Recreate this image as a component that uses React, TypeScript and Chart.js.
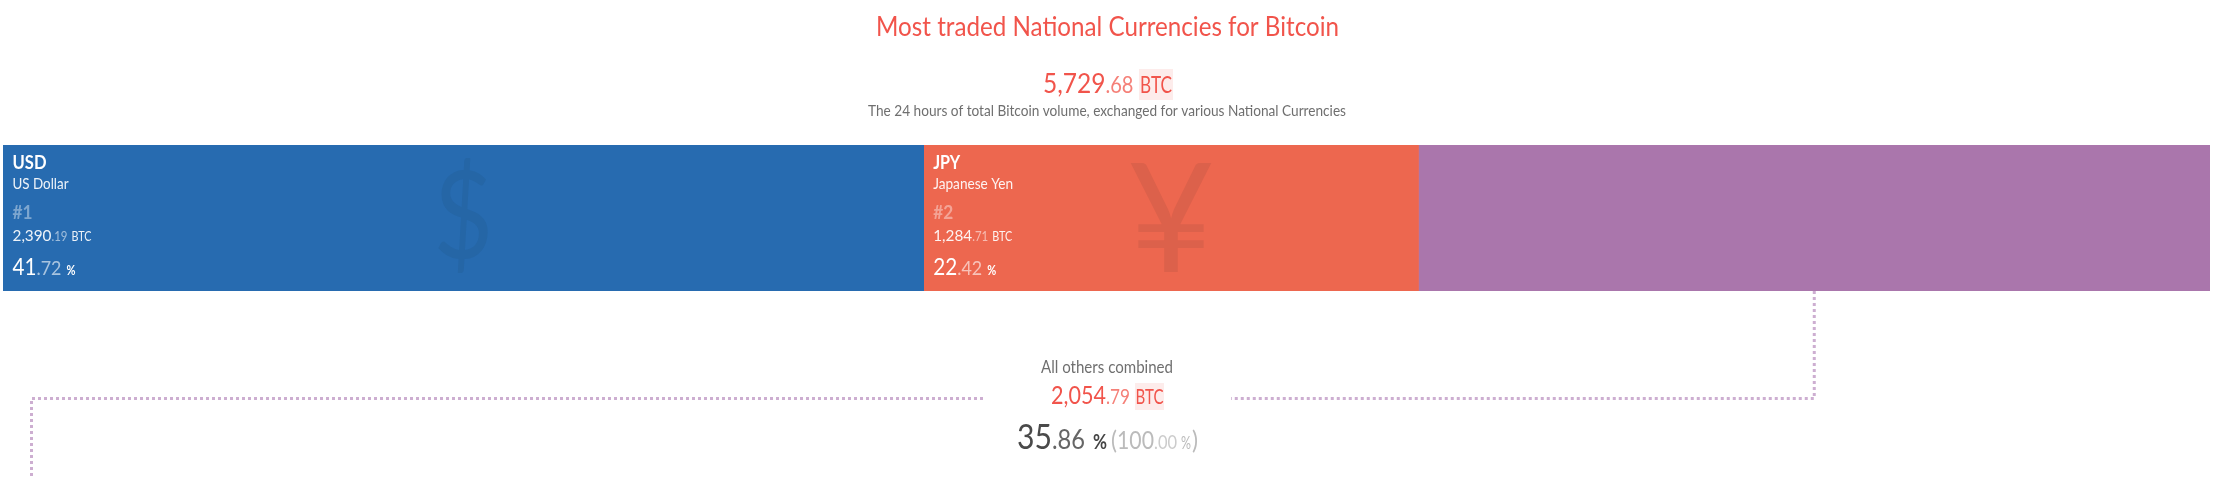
import { useEffect, useRef } from 'react'
import { Chart, registerables } from 'chart.js'

Chart.register(...registerables)

const FONT = 'Lato, sans-serif'

const currencies = ['USD', 'JPY', 'Others']
const currencyNames = ['US Dollar', 'Japanese Yen', 'All others combined']
const ranks = ['#1', '#2']
const symbols = ['$', '¥']
const btcVolumes = [2390.19, 1284.71, 2054.79]
const shares = [41.72, 22.42, 35.86]
const segmentColors = ['#276bb0', '#ed674f', '#aa76ac']
const symbolColors = ['#2566a6', '#dc614b']
const totalVolume = 5729.68

const RED = '#f1544b'
const RED_LIGHT = '#f58078'
const GREY = '#6f6f6f'
const DOTS = '#cdaed1'

type Run = { text: string; size: number; width: number; color: string; weight?: number; gap?: number }

function splitNumber(value: number) {
  const [whole, decimals] = value.toFixed(2).split('.')
  return [Number(whole).toLocaleString('en-US'), '.' + decimals]
}

// draws a line of mixed-size text, each piece squeezed to its width
function drawRuns(ctx: CanvasRenderingContext2D, x: number, y: number, runs: Run[]) {
  let cursor = x
  ctx.textAlign = 'left'
  ctx.textBaseline = 'alphabetic'
  runs.forEach((run) => {
    ctx.font = `${run.weight ?? 400} ${run.size}px ${FONT}`
    ctx.fillStyle = run.color
    ctx.fillText(run.text, cursor, y, run.width)
    cursor += run.width + (run.gap ?? 0)
  })
}

function dottedLine(ctx: CanvasRenderingContext2D, points: number[][]) {
  ctx.save()
  ctx.strokeStyle = DOTS
  ctx.lineWidth = 3
  ctx.setLineDash([3, 3])
  ctx.beginPath()
  points.forEach(([x, y], i) => (i === 0 ? ctx.moveTo(x, y) : ctx.lineTo(x, y)))
  ctx.stroke()
  ctx.restore()
}

const overlayPlugin = {
  id: 'overlay',
  afterDatasetsDraw(chart: Chart) {
    const ctx = chart.ctx
    const bars = chart.data.datasets.map((_, i) => chart.getDatasetMeta(i).data[0] as any)
    ctx.save()

    // heading
    drawRuns(ctx, 876, 36, [
      { text: 'Most traded National Currencies for Bitcoin', size: 27, width: 463, color: RED },
    ])
    ctx.fillStyle = '#fdeceb'
    ctx.fillRect(1139, 69, 34, 31)
    const [totalWhole, totalDec] = splitNumber(totalVolume)
    drawRuns(ctx, 1043, 93, [
      { text: totalWhole, size: 27, width: 62.5, color: RED },
      { text: totalDec, size: 23, width: 28, color: RED_LIGHT, gap: 6.5 },
      { text: 'BTC', size: 24, width: 32, color: RED },
    ])
    drawRuns(ctx, 868, 116, [
      {
        text: 'The 24 hours of total Bitcoin volume, exchanged for various National Currencies',
        size: 15,
        width: 478,
        color: GREY,
      },
    ])

    // labels inside the first two segments
    symbols.forEach((symbol, i) => {
      const left = bars[i].base
      const right = bars[i].x
      const textX = left + 9.5
      ctx.font = `400 ${i === 0 ? 122 : 152}px ${FONT}`
      ctx.fillStyle = symbolColors[i]
      ctx.textAlign = 'center'
      ctx.textBaseline = 'alphabetic'
      ctx.fillText(symbol, (left + right) / 2, i === 0 ? 258 : 272, i === 0 ? 60 : 88)

      const [whole, dec] = splitNumber(btcVolumes[i])
      const [shareWhole, shareDec] = splitNumber(shares[i])
      drawRuns(ctx, textX, 169, [
        { text: currencies[i], size: 19, width: i === 0 ? 34 : 27, color: '#ffffff', weight: 700 },
      ])
      drawRuns(ctx, textX, 189, [
        { text: currencyNames[i], size: 15, width: i === 0 ? 56 : 80, color: 'rgba(255,255,255,0.92)' },
      ])
      drawRuns(ctx, textX, 219, [
        { text: ranks[i], size: 19, width: 20, color: 'rgba(255,255,255,0.4)', weight: 700 },
      ])
      drawRuns(ctx, textX, 241, [
        { text: whole, size: 16, width: 39, color: 'rgba(255,255,255,0.92)' },
        { text: dec, size: 13, width: 16, color: 'rgba(255,255,255,0.55)', gap: 4 },
        { text: 'BTC', size: 13, width: 20, color: 'rgba(255,255,255,0.92)' },
      ])
      drawRuns(ctx, textX, 275, [
        { text: shareWhole, size: 23, width: 24, color: '#ffffff' },
        { text: shareDec, size: 19, width: 25, color: 'rgba(255,255,255,0.6)', gap: 5 },
        { text: '%', size: 14, width: 9, color: '#ffffff', weight: 700 },
      ])
    })

    // leader lines from the last segment around the "others" block
    const othersCenter = (bars[2].base + bars[2].x) / 2
    dottedLine(ctx, [
      [othersCenter, bars[2].y + bars[2].height / 2],
      [othersCenter, 398.5],
      [1231, 398.5],
    ])
    dottedLine(ctx, [
      [983, 398.5],
      [31.5, 398.5],
      [31.5, 479],
    ])

    // "others" block
    drawRuns(ctx, 1041, 373, [{ text: currencyNames[2], size: 17, width: 132, color: GREY }])
    ctx.fillStyle = '#fdeceb'
    ctx.fillRect(1135, 383, 29, 27)
    const [otherWhole, otherDec] = splitNumber(btcVolumes[2])
    drawRuns(ctx, 1051, 404, [
      { text: otherWhole, size: 25, width: 55, color: RED },
      { text: otherDec, size: 21, width: 24, color: RED_LIGHT, gap: 5.5 },
      { text: 'BTC', size: 21, width: 28, color: RED },
    ])
    const [otherShare, otherShareDec] = splitNumber(shares[2])
    drawRuns(ctx, 1017, 449, [
      { text: otherShare, size: 34, width: 35, color: '#4a4a4a' },
      { text: otherShareDec, size: 27, width: 33, color: '#666666', gap: 8 },
      { text: '%', size: 21, width: 14, color: '#444444', weight: 700, gap: 4 },
      { text: '(', size: 25, width: 6, color: '#bbbbbb' },
      { text: '100', size: 25, width: 37, color: '#bbbbbb' },
      { text: '.00', size: 20, width: 23, color: '#cccccc', gap: 4 },
      { text: '%', size: 17, width: 10, color: '#bbbbbb', gap: 1 },
      { text: ')', size: 25, width: 6, color: '#bbbbbb' },
    ])

    ctx.restore()
  },
}

export default function App() {
  const chartRef = useRef<HTMLCanvasElement>(null)

  useEffect(() => {
    if (!chartRef.current) return
    document.body.style.margin = '0'

    const chart = new Chart(chartRef.current, {
      type: 'bar',
      data: {
        labels: ['BTC volume'],
        datasets: currencies.map((currency, i) => ({
          label: currency,
          data: [btcVolumes[i]],
          backgroundColor: segmentColors[i],
          borderWidth: 0,
          barPercentage: 1,
          categoryPercentage: 1,
        })),
      },
      options: {
        indexAxis: 'y',
        responsive: false,
        animation: false,
        layout: { padding: { left: 3, right: 15, top: 145, bottom: 188 } },
        plugins: {
          legend: { display: false },
          tooltip: { enabled: false },
        },
        scales: {
          x: { stacked: true, display: false, min: 0, max: totalVolume },
          y: { stacked: true, display: false },
        },
      },
      plugins: [overlayPlugin],
    })

    return () => chart.destroy()
  }, [])

  return <canvas ref={chartRef} width={2225} height={479} style={{ display: 'block' }} />
}
